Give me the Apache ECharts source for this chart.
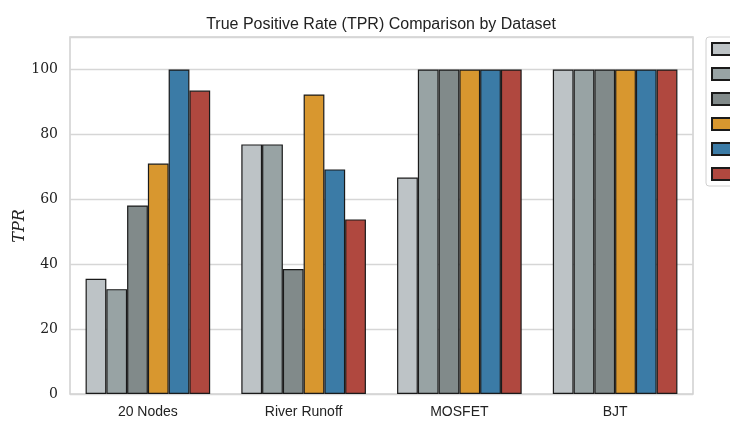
<!DOCTYPE html>
<html><head><meta charset="utf-8">
<script src="https://cdn.jsdelivr.net/npm/echarts@6/dist/echarts.min.js"></script>
<style>html,body{margin:0;padding:0;background:#fff}#c{width:730px;height:425px}</style>
</head><body><div id="c"></div>
<script>
const categories = ["20 Nodes", "River Runoff", "MOSFET", "BJT"];
const seriesNames = ["Method 1", "Method 2", "Method 3", "Method 4", "Method 5", "Method 6"];
const s1 = [35.5, 76.9, 66.7, 100];
const s2 = [32.3, 76.9, 100, 100];
const s3 = [58.1, 38.5, 100, 100];
const s4 = [71.0, 92.3, 100, 100];
const s5 = [100, 69.2, 100, 100];
const s6 = [93.5, 53.8, 100, 100];
const yTicks = [0, 20, 40, 60, 80, 100];
const colors = ["#bdc3c6", "#98a3a4", "#818a8a", "#d8972f", "#3b7ba6", "#b0483f"];

const values = [s1, s2, s3, s4, s5, s6];
const chart = echarts.init(document.getElementById('c'), null, {renderer: 'canvas'});
chart.setOption({
  animation: false,
  title: {text: "True Positive Rate (TPR) Comparison by Dataset", left: 376, top: 12, textAlign: 'center',
    textStyle: {fontFamily: "Liberation Sans", fontSize: 16, fontWeight: 'normal', color: '#222'}},
  graphic: [{type: 'text', x: 20, y: 226, rotation: Math.PI / 2,
    style: {text: 'TPR', fontFamily: "DejaVu Serif", fontStyle: 'italic', fontSize: 16, fill: '#222',
      textAlign: 'center', textVerticalAlign: 'middle'}}],
  grid: {left: 70, right: 37, top: 37, bottom: 31, show: true, borderColor: '#d0d0d0', borderWidth: 1.5,
    containLabel: false, outerBoundsMode: 'none'},
  legend: {orient: 'vertical', left: 706, top: 37, itemWidth: 19, itemHeight: 12, itemGap: 11,
    icon: 'rect',
    padding: [5, 5, 5, 5], borderColor: '#d0d0d0', borderWidth: 1, borderRadius: 3,
    textStyle: {fontFamily: "Liberation Sans", fontSize: 12, color: '#222'},
    data: seriesNames},
  xAxis: {type: 'category', data: categories,
    axisLine: {show: false}, axisTick: {show: false},
    axisLabel: {fontFamily: "Liberation Sans", fontSize: 14, color: '#222', margin: 11}},
  yAxis: {type: 'value', min: 0, max: 110, interval: 20,
    axisLine: {show: false}, axisTick: {show: false},
    splitLine: {lineStyle: {color: '#d6d6d6', width: 1.3}},
    axisLabel: {fontFamily: "DejaVu Serif", fontSize: 14, color: '#222', margin: 12,
      formatter: v => yTicks.includes(v) ? String(v) : ''}},
  series: values.map((d, i) => ({
    name: seriesNames[i], type: 'bar', data: d,
    barGap: '0%', barCategoryGap: '20%',
    itemStyle: {color: colors[i], borderColor: '#1a1a1a', borderWidth: 1.2}
  }))
});
</script></body></html>
